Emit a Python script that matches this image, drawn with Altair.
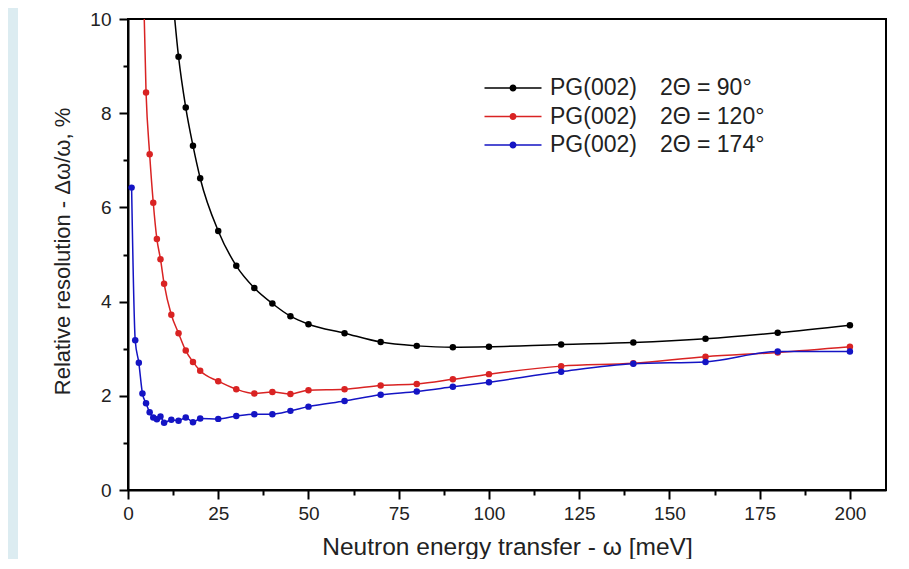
import altair as alt
import pandas as pd

# ---- data ----
series_names = ["PG(002)\u20032\u0398 = 90\u00b0",
                "PG(002)\u20032\u0398 = 120\u00b0",
                "PG(002)\u20032\u0398 = 174\u00b0"]
series_colors = ["#000000", "#d92323", "#1414c4"]

omega_90 = [12, 14, 16, 18, 20, 25, 30, 35, 40, 45, 50, 60, 70, 80, 90, 100,
            120, 140, 160, 180, 200]
res_90 = [10.8, 9.2, 8.12, 7.31, 6.62, 5.50, 4.76, 4.29, 3.96, 3.69, 3.52,
          3.33, 3.14, 3.06, 3.03, 3.04, 3.09, 3.13, 3.21, 3.34, 3.50]

omega_120 = [4, 5, 6, 7, 8, 9, 10, 12, 14, 16, 18, 20, 25, 30, 35, 40, 45, 50,
             60, 70, 80, 90, 100, 120, 140, 160, 180, 200]
res_120 = [11.6, 8.44, 7.13, 6.10, 5.33, 4.90, 4.38, 3.72, 3.33, 2.96, 2.72,
           2.53, 2.31, 2.14, 2.05, 2.08, 2.04, 2.12, 2.14, 2.22, 2.25, 2.35,
           2.46, 2.63, 2.69, 2.83, 2.92, 3.04]

omega_174 = [1, 2, 3, 4, 5, 6, 7, 8, 9, 10, 12, 14, 16, 18, 20, 25, 30, 35, 40,
             45, 50, 60, 70, 80, 90, 100, 120, 140, 160, 180, 200]
res_174 = [6.42, 3.18, 2.70, 2.05, 1.84, 1.65, 1.54, 1.50, 1.56, 1.43, 1.49,
           1.47, 1.54, 1.44, 1.52, 1.51, 1.57, 1.61, 1.61, 1.68, 1.77, 1.89,
           2.02, 2.09, 2.19, 2.29, 2.51, 2.68, 2.72, 2.94, 2.94]

x_tick_values = [0, 12.5, 25, 37.5, 50, 62.5, 75, 87.5, 100, 112.5, 125,
                 137.5, 150, 162.5, 175, 187.5, 200]
y_tick_values = [0, 1, 2, 3, 4, 5, 6, 7, 8, 9, 10]

rows = []
for name, xs, ys in [(series_names[0], omega_90, res_90),
                     (series_names[1], omega_120, res_120),
                     (series_names[2], omega_174, res_174)]:
    for xv, yv in zip(xs, ys):
        rows.append({"omega": xv, "res": yv, "series": name})
df = pd.DataFrame(rows)

FONT = "Liberation Sans"
TXT = "#222222"

x_enc = alt.X(
    "omega:Q",
    scale=alt.Scale(domain=[0, 210], nice=False, zero=False),
    axis=alt.Axis(
        values=x_tick_values,
        labelExpr="datum.value % 25 === 0 ? datum.label : ''",
        tickSize={"condition": {"test": "datum.value % 25 === 0", "value": 9}, "value": 5},
        labelOverlap=False, labelFlush=False, grid=False,
        title="Neutron energy transfer - \u03c9 [meV]",
        titleX=379, titleY=57, titleBaseline="middle", titleAlign="center",
        titleFontSize=24.5, labelPadding=5,
    ),
)
y_enc = alt.Y(
    "res:Q",
    scale=alt.Scale(domain=[0, 10], nice=False, zero=True),
    axis=alt.Axis(
        values=y_tick_values,
        labelExpr="datum.value % 2 === 0 ? datum.label : ''",
        tickSize={"condition": {"test": "datum.value % 2 === 0", "value": 9}, "value": 5},
        labelOverlap=False, labelFlush=False, grid=False,
        title="Relative resolution - \u0394\u03c9/\u03c9, %",
        titleX=-66, titleY=232, titleAngle=270, titleBaseline="middle",
        titleAlign="center", titleFontSize=22, labelPadding=8,
    ),
)

LEG_PATH = ("M-2.85,-0.075H-0.34V0.075H-2.85Z"
            "M0.34,-0.075H2.85V0.075H0.34Z"
            "M0.35,0A0.35,0.35,0,1,1,-0.35,0A0.35,0.35,0,1,1,0.35,0Z")

line_layers = []
for name, col in zip(series_names, series_colors):
    line_layers.append(
        alt.Chart(df).transform_filter(alt.datum.series == name)
        .mark_line(strokeWidth=1.5, interpolate="monotone", clip=True, color=col)
        .encode(x=x_enc, y=y_enc)
    )

points = alt.Chart(df).mark_point(filled=True, size=42, opacity=1, clip=True).encode(
    x=x_enc,
    y=y_enc,
    color=alt.Color(
        "series:N", scale=alt.Scale(domain=series_names, range=series_colors),
        legend=alt.Legend(
            title=None, orient="none", legendX=373.5, legendY=57.5,
            symbolType=LEG_PATH, symbolSize=400, symbolStrokeWidth=0,
            symbolOpacity=1,
            labelFont=FONT, labelFontSize=23, labelColor=TXT,
            labelOffset=25.5, rowPadding=4.5, padding=0, labelLimit=400,
        ),
    ),
)

strip = alt.Chart(alt.Data(values=[{"k": 1}])).mark_rect(color="#dcecf1").encode(
    x=alt.value(-120), x2=alt.value(-110), y=alt.value(-11), y2=alt.value(560)
)

chart = alt.layer(strip, *line_layers, points).properties(
    width=758, height=471,
    padding={"left": 120, "top": 11, "right": 10, "bottom": 69},
    autosize=alt.AutoSizeParams(type="none"),
    background="white",
).configure_view(
    stroke="black", strokeWidth=2
).configure_axis(
    domainColor="black", domainWidth=2, tickColor="black", tickWidth=2,
    labelFont=FONT, labelFontSize=19, labelColor=TXT,
    titleFont=FONT, titleFontWeight="normal", titleColor=TXT,
)

chart.save("out.html", embed_options={"renderer": "svg", "actions": False})
